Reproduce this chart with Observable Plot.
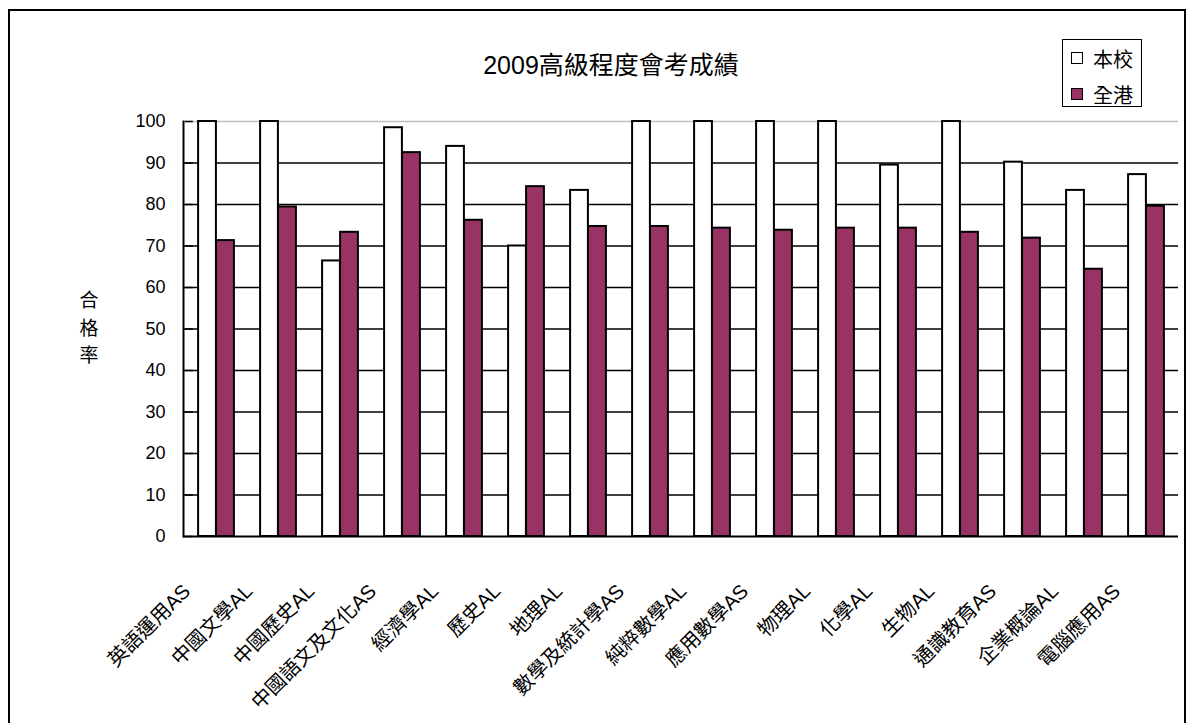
<!DOCTYPE html>
<html>
<head>
<meta charset="utf-8">
<script src="https://cdn.jsdelivr.net/npm/d3@7"></script>
<script src="https://cdn.jsdelivr.net/npm/@observablehq/plot@0.6"></script>
<style>
  body { margin: 0; background: #fff; font-family: "Liberation Sans", "Noto Sans CJK TC", sans-serif; }
  #wrap { position: relative; width: 1196px; height: 723px; overflow: hidden; }
  #chart { position: absolute; left: 0; top: 0; }
  #border { position: absolute; left: 8px; top: 9px; width: 1178px; height: 720px; border: 2px solid #000; box-sizing: border-box; }
  #title { position: absolute; left: 0; width: 1222px; top: 49px; text-align: center; font-size: 25px; line-height: 32px; color: #000; }
  #ylabel { position: absolute; left: 78px; top: 287px; width: 22px; font-size: 19px; line-height: 27.5px; text-align: center; color: #000; }
  #legend { position: absolute; left: 1062px; top: 39px; width: 80px; height: 68px; border: 1.5px solid #000; box-sizing: border-box; background: #fff; }
  .item { position: absolute; left: 8px; height: 26px; display: flex; align-items: center; font-size: 20px; }
  .sw { width: 10px; height: 10px; border: 1.5px solid #000; margin-right: 10px; }
</style>
</head>
<body>
<div id="wrap">
  <div id="chart"></div>
  <div id="border"></div>
  <div id="title"></div>
  <div id="ylabel"></div>
  <div id="legend"></div>
</div>
<script>
const title = "2009高級程度會考成績";
const yLabel = "合格率";
const seriesNames = ["本校", "全港"];
const seriesColors = ["#ffffff", "#993366"];
const categories = ["英語運用AS", "中國文學AL", "中國歷史AL", "中國語文及文化AS", "經濟學AL", "歷史AL", "地理AL", "數學及統計學AS", "純粹數學AL", "應用數學AS", "物理AL", "化學AL", "生物AL", "通識教育AS", "企業概論AL", "電腦應用AS"];
const school = [100, 100, 66.4, 98.5, 94.0, 70.0, 83.4, 100, 100, 100, 100, 89.5, 100, 90.2, 83.4, 87.2];
const hongKong = [71.3, 79.4, 73.3, 92.5, 76.2, 84.3, 74.7, 74.7, 74.3, 73.8, 74.3, 74.3, 73.3, 71.9, 64.4, 79.6];
const yTicks = [0, 10, 20, 30, 40, 50, 60, 70, 80, 90, 100];

const fontFamily = '"Liberation Sans", "Noto Sans CJK TC", sans-serif';
const W = 1196, H = 723, mL = 183, mR = 18, mT = 121, mB = 187;
const band = (W - mL - mR) / categories.length;
const barW = 18;
const half = band / 2;

const rows = categories.map((c, i) => ({cat: c, school: school[i], hk: hongKong[i]}));

const chart = Plot.plot({
  width: W, height: H,
  marginLeft: mL, marginRight: mR, marginTop: mT, marginBottom: mB,
  style: {fontFamily, fontSize: "18px", background: "transparent", color: "#000"},
  x: {domain: categories, padding: 0, axis: null},
  y: {domain: [0, 100], axis: null},
  marks: [
    Plot.ruleY(yTicks.filter(d => d > 0 && d < 100), {y: d => d, stroke: "#000", strokeWidth: 1.5}),
    Plot.ruleY([100], {y: d => d, stroke: "#c0c0c0", strokeWidth: 1.5}),
    Plot.tickY(yTicks, {y: d => d, x: () => categories[0], insetRight: band - 8, stroke: "#000", strokeWidth: 1.5}),
    Plot.barY(rows, {x: "cat", y: "school", fill: seriesColors[0], stroke: "#000", strokeWidth: 2,
      insetLeft: half - barW, insetRight: half}),
    Plot.barY(rows, {x: "cat", y: "hk", fill: seriesColors[1], stroke: "#000", strokeWidth: 2,
      insetLeft: half, insetRight: half - barW}),
    Plot.ruleY([0], {y: d => d, stroke: "#000", strokeWidth: 2}),
    Plot.frame({anchor: "left", stroke: "#000", strokeWidth: 2}),
    Plot.axisY({ticks: yTicks, tickSize: 0, tickPadding: 18, fontSize: 18, label: null, tickFormat: d => String(d)}),
    Plot.text(categories, {x: d => d, frameAnchor: "bottom", rotate: -45, textAnchor: "end", lineAnchor: "bottom",
      dx: -25, dy: 56, fontSize: 20, fill: "#000"})
  ]
});
document.getElementById("chart").appendChild(chart);

document.getElementById("title").textContent = title;
document.getElementById("ylabel").innerHTML = Array.from(yLabel).map(c => `<div>${c}</div>`).join("");
const legend = document.getElementById("legend");
seriesNames.forEach((name, i) => {
  const it = document.createElement("div");
  it.className = "item";
  it.style.top = (i === 0 ? 5 : 41) + "px";
  it.innerHTML = `<div class="sw" style="background:${seriesColors[i]}"></div><span>${name}</span>`;
  legend.appendChild(it);
});
</script>
</body>
</html>
